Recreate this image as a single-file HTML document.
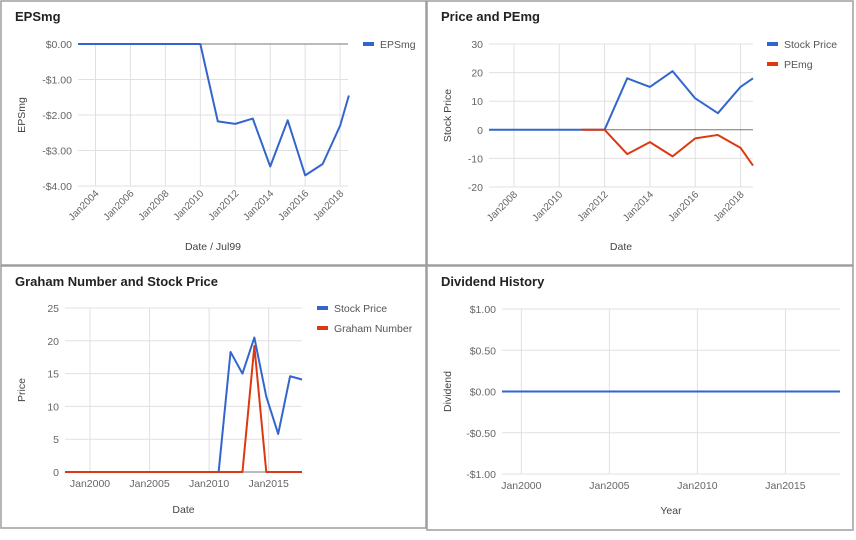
<!DOCTYPE html>
<html><head><meta charset="utf-8"><style>
body{margin:0;background:#fff;width:856px;height:535px;overflow:hidden;font-family:"Liberation Sans",Arial,sans-serif}
svg text{font-family:"Liberation Sans",Arial,sans-serif}
</style></head><body>
<svg id="s" width="856" height="535">
<rect x="0" y="0" width="856" height="535" fill="#fff"/>
</svg>
<script>
// EPSmg chart data
const epsYears=[2003,2004,2005,2006,2007,2008,2009,2010,2011,2012,2013,2014,2015,2016,2017,2018,2018.5];
const epsValues=[0,0,0,0,0,0,0,0,-2.18,-2.25,-2.1,-3.45,-2.15,-3.7,-3.38,-2.3,-1.45];
const epsYTicks=[0,-1,-2,-3,-4];
const epsXTicks=[2004,2006,2008,2010,2012,2014,2016,2018];
// Price and PEmg
const pYears=[2006.9,2008,2009,2010,2011,2012,2013,2014,2015,2016,2017,2018,2018.55];
const pPrice=[0,0,0,0,0,0,18,15,20.5,11,5.8,15,18];
const peYears=[2011,2012,2013,2014,2015,2016,2017,2018,2018.55];
const peValues=[0,0,-8.5,-4.3,-9.3,-3,-1.8,-6.3,-12.5];
const pYTicks=[30,20,10,0,-10,-20];
const pXTicks=[2008,2010,2012,2014,2016,2018];
// Graham
const gYears=[1997.9,2005,2010,2010.8,2011.8,2012.8,2013.8,2014.8,2015.8,2016.8,2017.8];
const gPrice=[0,0,0,0,18.3,15,20.5,11.5,5.8,14.6,14.1];
const gnYears=[1997.9,2005,2010,2012.8,2013.8,2014.8,2015.8,2017.8];
const gnValues=[0,0,0,0,19.2,0,0,0];
const gYTicks=[25,20,15,10,5,0];
const gXTicks=[2000,2005,2010,2015];
// Dividend
const dYears=[1998.9,2005,2010,2015,2018.1];
const dValues=[0,0,0,0,0];
const dYTicks=[1,0.5,0,-0.5,-1];
const dXTicks=[2000,2005,2010,2015];

const NS="http://www.w3.org/2000/svg";
const svg=document.getElementById('s');
function el(tag,attrs,parent,txt){const e=document.createElementNS(NS,tag);for(const k in attrs)e.setAttribute(k,attrs[k]);if(txt!==undefined)e.textContent=txt;(parent||svg).appendChild(e);return e;}
const money=v=>(v<0?'-':'')+'$'+Math.abs(v).toFixed(2);

function chart(o){
  const g=el('g',{});
  
  
  const f=el('rect',{x:o.fx,y:o.fy,width:o.fw,height:o.fh,fill:'#fff',stroke:'#9e9e9e','stroke-width':1.5},g);
  
  const t=el('text',{x:o.fx+14,y:o.fy+20,'font-size':13,'font-weight':'bold',fill:'#222'},g,o.title);
  
  const xs=v=>o.x0+(v-o.d0)/(o.d1-o.d0)*(o.x1-o.x0);
  const ys=v=>o.y0+(o.v0-v)/(o.v0-o.v1)*(o.y1-o.y0);
  o.xTicks.forEach(v=>{
    const l=el('line',{x1:xs(v),x2:xs(v),y1:o.y0,y2:o.y1,stroke:'#e0e0e0'},g);
    
    let tx;
    if(o.rot){tx=el('text',{x:xs(v)+4,y:o.y1+8,'font-size':10,fill:'#666','text-anchor':'end',transform:`rotate(-45 ${xs(v)+4} ${o.y1+8})`},g,'Jan'+v);}
    else tx=el('text',{x:xs(v),y:o.y1+15,'font-size':10.5,fill:'#666','text-anchor':'middle'},g,'Jan'+v);
    
  });
  o.yTicks.forEach(v=>{
    const l=el('line',{x1:o.x0,x2:o.x1,y1:ys(v),y2:ys(v),stroke:v===0&&o.zeroDark?'#777':'#e0e0e0'},g);
    
    const tx=el('text',{x:o.x0-6,y:ys(v)+4,'font-size':10.5,fill:'#666','text-anchor':'end'},g,o.fmt?o.fmt(v):String(v));
    
  });
  const cy=(o.y0+o.y1)/2;
  const yt=el('text',{x:o.fx+24,y:cy,'font-size':10.5,fill:'#444','text-anchor':'middle',transform:`rotate(-90 ${o.fx+24} ${cy})`},g,o.yTitle);
  
  const xt=el('text',{x:(o.x0+o.x1)/2,y:o.xTitleY,'font-size':10.5,fill:'#444','text-anchor':'middle'},g,o.xTitle);
  
  o.series.forEach((s,i)=>{
    const p=el('polyline',{points:s.x.map((d,j)=>xs(d)+','+ys(s.y[j])).join(' '),fill:'none',stroke:s.color,'stroke-width':2,'stroke-linejoin':'round'},g);
    
    if(s.label){
      const ly=o.y0+i*20;
      const lr=el('rect',{x:o.lx,y:ly-2,width:11,height:4,fill:s.color},g);
      
      const lt=el('text',{x:o.lx+17,y:ly+4,'font-size':10.5,fill:'#555'},g,s.label);
      
    }
  });
}
const BL='#3366cc',RD='#dc3912';
chart({name:'epsmg-chart',title:'EPSmg',fx:1,fy:1,fw:425,fh:264,x0:78,x1:348,y0:44,y1:186,d0:2003,d1:2018.45,v0:0,v1:-4,
 xTicks:epsXTicks,yTicks:epsYTicks,fmt:money,rot:true,zeroDark:true,yTitle:'EPSmg',xTitle:'Date / Jul99',xTitleY:250,lx:363,
 series:[{key:'epsmg',x:epsYears,y:epsValues,color:BL,label:'EPSmg'}]});
chart({name:'price-pemg-chart',title:'Price and PEmg',fx:427,fy:1,fw:426,fh:264,x0:489,x1:753,y0:44,y1:187,d0:2006.9,d1:2018.55,v0:30,v1:-20,
 xTicks:pXTicks,yTicks:pYTicks,rot:true,zeroDark:true,yTitle:'Stock Price',xTitle:'Date',xTitleY:250,lx:767,
 series:[{key:'stock-price',x:pYears,y:pPrice,color:BL,label:'Stock Price'},{key:'pemg',x:peYears,y:peValues,color:RD,label:'PEmg'}]});
chart({name:'graham-chart',title:'Graham Number and Stock Price',fx:1,fy:266,fw:425,fh:262,x0:65,x1:302,y0:308,y1:472,d0:1997.9,d1:2017.8,v0:25,v1:0,
 xTicks:gXTicks,yTicks:gYTicks,rot:false,zeroDark:true,yTitle:'Price',xTitle:'Date',xTitleY:513,lx:317,
 series:[{key:'stock-price',x:gYears,y:gPrice,color:BL,label:'Stock Price'},{key:'graham-number',x:gnYears,y:gnValues,color:RD,label:'Graham Number'}]});
chart({name:'dividend-chart',title:'Dividend History',fx:427,fy:266,fw:426,fh:264,x0:502,x1:840,y0:309,y1:474,d0:1998.9,d1:2018.1,v0:1,v1:-1,
 xTicks:dXTicks,yTicks:dYTicks,fmt:money,rot:false,zeroDark:false,yTitle:'Dividend',xTitle:'Year',xTitleY:514,lx:9999,
 series:[{key:'dividend',x:dYears,y:dValues,color:BL}]});
</script>
</body></html>
